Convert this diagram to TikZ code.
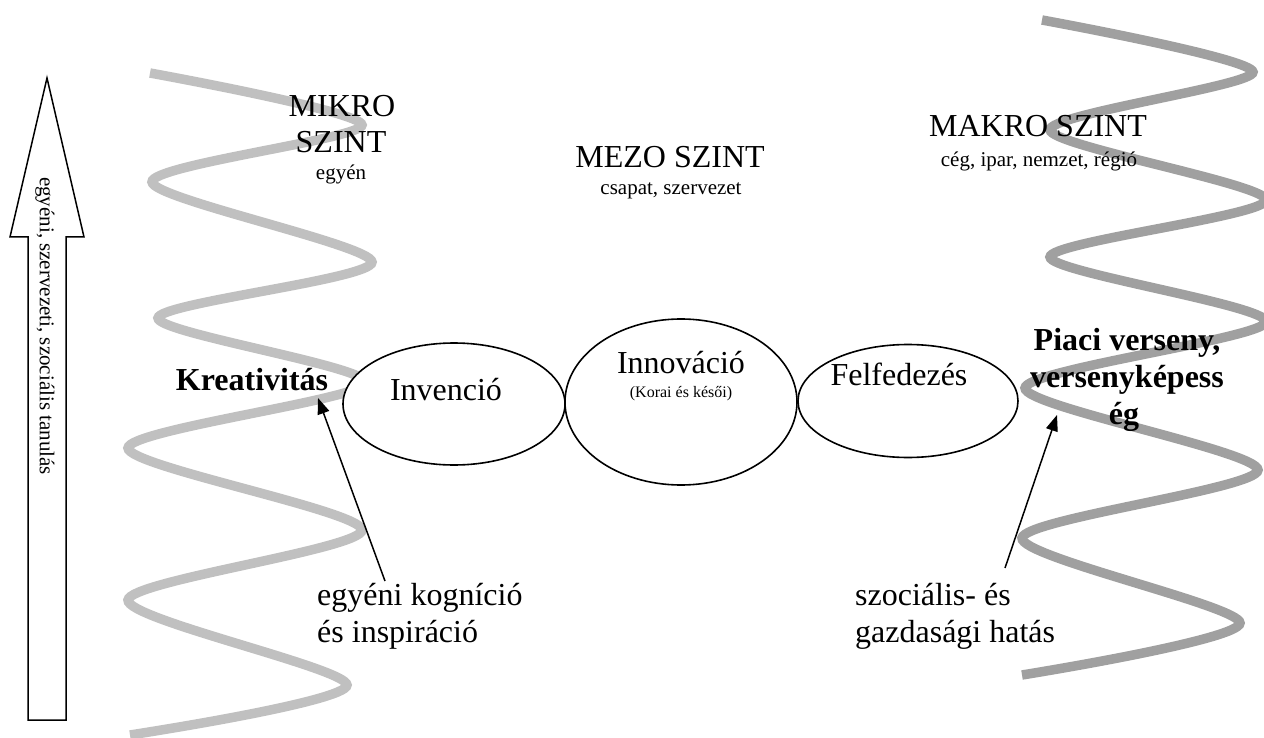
\documentclass[tikz,border=0pt]{standalone}
\usepackage{fontspec}
\setmainfont{LiberationSerif}[Extension=.ttf, UprightFont=*-Regular, BoldFont=*-Bold, ItalicFont=*-Italic, BoldItalicFont=*-BoldItalic]
\usetikzlibrary{arrows.meta,shapes.geometric}
\definecolor{wavelight}{RGB}{192,192,192}
\definecolor{wavedark}{RGB}{160,160,160}
\begin{document}
\begin{tikzpicture}[x=1pt,y=-1pt,
  oval/.style={ellipse, draw, fill=white, line width=1.6pt, inner sep=0pt},
  bigtxt/.style={font=\fontsize{32}{37}\selectfont, inner sep=0pt, anchor=base},
  bigbold/.style={font=\fontsize{32}{37}\selectfont\bfseries, inner sep=0pt, anchor=base},
  smalltxt/.style={font=\fontsize{21}{25}\selectfont, inner sep=0pt, anchor=base},
  tinytxt/.style={font=\fontsize{16}{19}\selectfont, inner sep=0pt, anchor=base},
  pointer/.style={line width=1.5pt, -{Triangle[length=16pt,width=12pt]}},
  blockarrow/.style={draw, line width=1.5pt, fill=white},
]
\useasboundingbox (0,0) rectangle (1264,738);

% waves
\draw[wavelight, line width=9.5pt] plot[smooth, tension=0.45] coordinates {
  (150,73) (362,125) (152,182) (372,262) (158,318) (366,383) (128,448)
  (362,530) (128,600) (347,685) (130,735)};
\draw[wavedark, line width=9.5pt] plot[smooth, tension=0.45] coordinates {
  (1042,20) (1253,72) (1050,130) (1266,200) (1050,257) (1266,322) (1025,388)
  (1258,470) (1022,538) (1240,623) (1022,675)};

% block arrow
\draw[blockarrow] (28,720) -- (28,237) -- (10,237) -- (47,78) -- (84,237)
  -- (66,237) -- (66,720) -- cycle;
\node[font=\fontsize{21}{25}\selectfont, inner sep=0pt, rotate=-90] (learn) at (45,326)
  {egyéni, szervezeti, szociális tanulás};

% ellipses
\node[oval, minimum width=222pt, minimum height=122pt] (inv) at (454,404) {};
\node[oval, minimum width=232pt, minimum height=166pt] (inn) at (681,402) {};
\node[oval, minimum width=220pt, minimum height=113pt] (fel) at (908,401) {};

\node[bigtxt] (invt) at (446,400) {Invenció};
\node[bigtxt] (innt) at (681,373) {Innováció};
\node[tinytxt] (innk) at (681,397) {(Korai és késői)};
\node[bigtxt] (felt) at (899,385) {Felfedezés};

% levels
\node[bigtxt] (mikro1) at (342,117) {MIKRO};
\node[bigtxt] (mikro2) at (341,153) {SZINT};
\node[smalltxt] (mikro3) at (341,180) {egyén};
\node[bigtxt] (mezo1) at (670,168) {MEZO SZINT};
\node[smalltxt] (mezo2) at (671,195) {csapat, szervezet};
\node[bigtxt] (makro1) at (1038,137) {MAKRO SZINT};
\node[smalltxt] (makro2) at (1039,167) {cég, ipar, nemzet, régió};

% side labels
\node[bigbold] (krea) at (252,390) {Kreativitás};
\node[bigbold] (piac1) at (1127,350) {Piaci verseny,};
\node[bigbold] (piac2) at (1127,387) {versenyképess};
\node[bigbold] (piac3) at (1124,424) {ég};

% bottom labels
\node[bigtxt, anchor=base west] (kog1) at (317,605) {egyéni kogníció};
\node[bigtxt, anchor=base west] (kog2) at (317,642) {és inspiráció};
\node[bigtxt, anchor=base west] (hat1) at (855,605) {szociális- és};
\node[bigtxt, anchor=base west] (hat2) at (855,642) {gazdasági hatás};

% pointers
\coordinate (tailL) at (385,581);
\coordinate (tipL) at (318,398);
\coordinate (tailR) at (1005,568);
\coordinate (tipR) at (1057,415);
\draw[pointer] (tailL) -- (tipL);
\draw[pointer] (tailR) -- (tipR);
\end{tikzpicture}
\end{document}
